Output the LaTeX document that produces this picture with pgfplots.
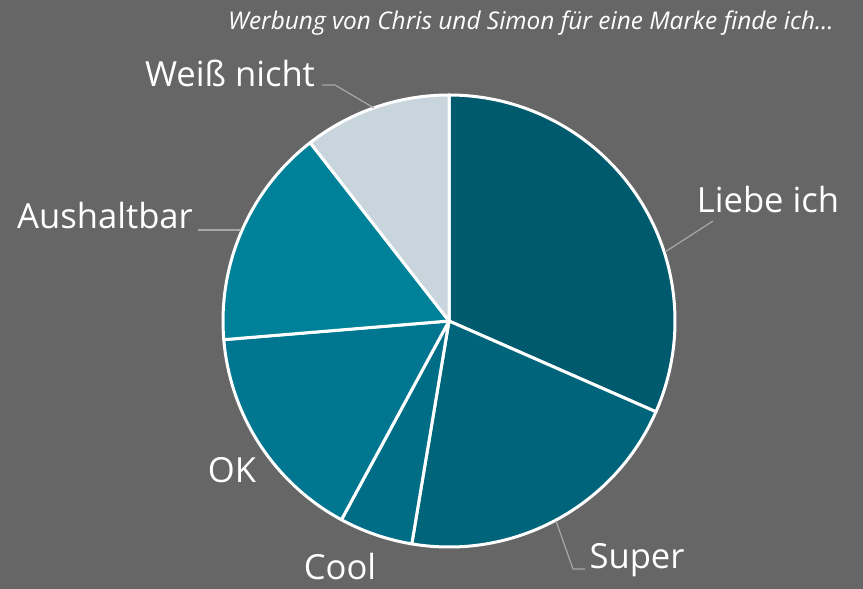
\documentclass[border=0pt]{standalone}
\usepackage{pgfplots}
\pgfplotsset{compat=1.18}
\usepackage{pgfplotstable}
\usepackage{fontspec}
\setmainfont{Open Sans}
\definecolor{bg}{HTML}{666666}
\definecolor{lead}{HTML}{A8A8A8}
\definecolor{slice0}{HTML}{005A6E}
\definecolor{slice1}{HTML}{00657A}
\definecolor{slice2}{HTML}{006D86}
\definecolor{slice3}{HTML}{007690}
\definecolor{slice4}{HTML}{00819A}
\definecolor{slice5}{HTML}{C8D5DD}

% label, count of answers (clockwise from 12 o'clock)
\pgfplotstableread[col sep=comma]{
label,value
Liebe ich,6
Super,4
Cool,1
OK,3
Aushaltbar,3
Weiß nicht,2
}\piedata

\pgfplotstablegetrowsof{\piedata}
\pgfmathtruncatemacro\lastrow{\pgfplotsretval-1}
\gdef\total{0}
\foreach \i in {0,...,\lastrow}{%
  \pgfplotstablegetelem{\i}{value}\of\piedata
  \pgfmathsetmacro\t{\total+\pgfplotsretval}%
  \xdef\total{\t}%
}
\gdef\cum{0}
\foreach \i in {0,...,\lastrow}{%
  \pgfplotstablegetelem{\i}{value}\of\piedata
  \let\v\pgfplotsretval
  \pgfmathsetmacro\s{90-360*\cum/\total}%
  \pgfmathsetmacro\e{90-360*(\cum+\v)/\total}%
  \expandafter\xdef\csname ps\i\endcsname{\s}%
  \expandafter\xdef\csname pe\i\endcsname{\e}%
  \pgfmathsetmacro\c{\cum+\v}%
  \xdef\cum{\c}%
}

\begin{document}
\begin{tikzpicture}
\begin{axis}[
  x=0.5pt, y=0.5pt,
  xmin=-449, xmax=414, ymin=-268, ymax=321,
  hide axis, clip=false,
  at={(0,0)}, anchor=south west,
]
\fill[bg] (axis cs:-449,-268) rectangle (axis cs:414,321);
\pgfplotsinvokeforeach{0,...,5}{
  \filldraw[fill=slice#1, draw=white, line width=1.5pt, line join=round]
    (axis cs:0,0) -- (axis cs:{226*cos(\csname ps#1\endcsname)},{226*sin(\csname ps#1\endcsname)})
    arc[start angle=\csname ps#1\endcsname, end angle=\csname pe#1\endcsname, radius=113pt] -- cycle;
}
% leader lines
\draw[lead, line width=0.6pt] (axis cs:-127,236) -- (axis cs:-114,236) -- (axis cs:-75,213);
\draw[lead, line width=0.6pt] (axis cs:264,100) -- (axis cs:216,69);
\draw[lead, line width=0.6pt] (axis cs:-251,91) -- (axis cs:-208,91);
\draw[lead, line width=0.6pt] (axis cs:136,-248) -- (axis cs:124,-248) -- (axis cs:107,-200);
% labels
\begin{scope}[every node/.style={text=white, anchor=base, inner sep=0pt, font=\fontsize{17.3}{20}\selectfont}]
\node at (axis cs:-219,234) {Weiß nicht};
\node at (axis cs:319,108) {Liebe ich};
\node at (axis cs:-344,92) {Aushaltbar};
\node at (axis cs:-217,-162) {OK};
\node at (axis cs:-109,-259) {Cool};
\node at (axis cs:188,-248) {Super};
\node[font=\itshape\fontsize{12.2}{14}\selectfont] at (axis cs:82,291) {Werbung von Chris und Simon für eine Marke finde ich\dots};
\end{scope}
\end{axis}
\end{tikzpicture}
\end{document}
